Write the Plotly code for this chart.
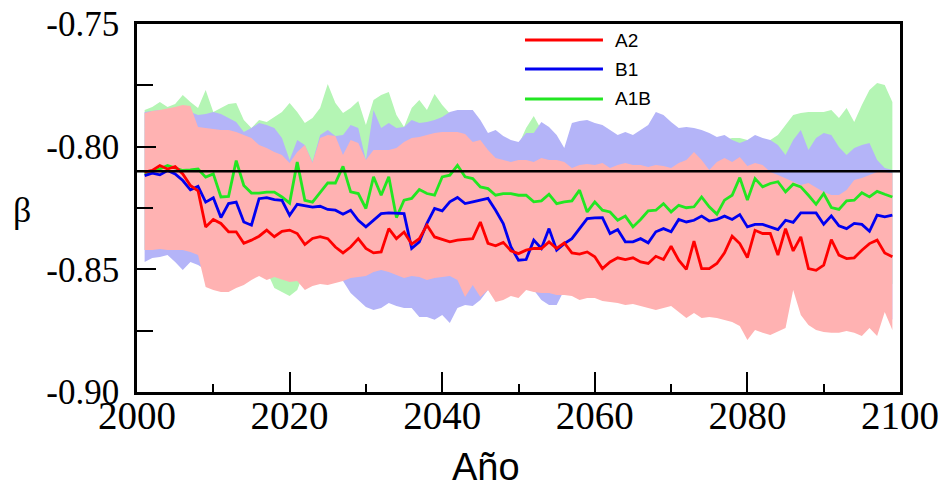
import plotly.graph_objects as go

years = list(range(2001, 2100))

a2_mean = [-0.8104, -0.8097, -0.8077, -0.8091, -0.8081, -0.8111, -0.8158, -0.8180, -0.8327, -0.8297,
           -0.8313, -0.8347, -0.8347, -0.8394, -0.8381, -0.8365, -0.8340, -0.8367, -0.8345, -0.8340,
           -0.8354, -0.8399, -0.8374, -0.8367, -0.8375, -0.8409, -0.8433, -0.8409, -0.8375, -0.8415,
           -0.8433, -0.8429, -0.8334, -0.8375, -0.8348, -0.8397, -0.8375, -0.8320, -0.8368, -0.8379,
           -0.8388, -0.8381, -0.8379, -0.8375, -0.8307, -0.8394, -0.8404, -0.8390, -0.8424, -0.8436,
           -0.8422, -0.8415, -0.8415, -0.8388, -0.8415, -0.8392, -0.8433, -0.8438, -0.8429, -0.8449,
           -0.8497, -0.8470, -0.8453, -0.8460, -0.8453, -0.8470, -0.8476, -0.8447, -0.8460, -0.8406,
           -0.8463, -0.8500, -0.8385, -0.8497, -0.8497, -0.8476, -0.8433, -0.8365, -0.8395, -0.8452,
           -0.8341, -0.8354, -0.8354, -0.8442, -0.8334, -0.8425, -0.8368, -0.8497, -0.8504, -0.8483,
           -0.8379, -0.8442, -0.8456, -0.8453, -0.8422, -0.8395, -0.8381, -0.8433, -0.8449]

b1_mean = [-0.8118, -0.8108, -0.8115, -0.8097, -0.8111, -0.8138, -0.8176, -0.8162, -0.8226, -0.8208,
           -0.8289, -0.8232, -0.8226, -0.8307, -0.8320, -0.8212, -0.8208, -0.8216, -0.8219, -0.8280,
           -0.8235, -0.8239, -0.8246, -0.8243, -0.8256, -0.8259, -0.8275, -0.8259, -0.8300, -0.8327,
           -0.8300, -0.8273, -0.8270, -0.8270, -0.8273, -0.8415, -0.8388, -0.8313, -0.8252, -0.8262,
           -0.8225, -0.8207, -0.8232, -0.8225, -0.8218, -0.8211, -0.8259, -0.8313, -0.8408, -0.8463,
           -0.8460, -0.8381, -0.8415, -0.8334, -0.8422, -0.8395, -0.8375, -0.8334, -0.8293, -0.8290,
           -0.8289, -0.8354, -0.8338, -0.8388, -0.8388, -0.8375, -0.8392, -0.8347, -0.8334, -0.8347,
           -0.8297, -0.8307, -0.8300, -0.8283, -0.8303, -0.8297, -0.8283, -0.8297, -0.8277, -0.8327,
           -0.8317, -0.8317, -0.8327, -0.8338, -0.8300, -0.8309, -0.8270, -0.8269, -0.8270, -0.8316,
           -0.8282, -0.8323, -0.8334, -0.8313, -0.8317, -0.8345, -0.8279, -0.8286, -0.8279]

a1b_mean = [-0.8111, -0.8101, -0.8091, -0.8077, -0.8086, -0.8097, -0.8095, -0.8091, -0.8124, -0.8111,
            -0.8205, -0.8203, -0.8057, -0.8158, -0.8189, -0.8189, -0.8185, -0.8185, -0.8205, -0.8230,
            -0.8063, -0.8219, -0.8226, -0.8185, -0.8148, -0.8148, -0.8080, -0.8184, -0.8191, -0.8252,
            -0.8123, -0.8198, -0.8123, -0.8289, -0.8218, -0.8211, -0.8175, -0.8191, -0.8198, -0.8123,
            -0.8116, -0.8076, -0.8123, -0.8130, -0.8164, -0.8171, -0.8198, -0.8191, -0.8191, -0.8198,
            -0.8198, -0.8225, -0.8221, -0.8194, -0.8232, -0.8225, -0.8221, -0.8177, -0.8266, -0.8225,
            -0.8259, -0.8266, -0.8300, -0.8283, -0.8327, -0.8297, -0.8262, -0.8259, -0.8232, -0.8266,
            -0.8239, -0.8249, -0.8245, -0.8205, -0.8245, -0.8275, -0.8218, -0.8198, -0.8126, -0.8218,
            -0.8130, -0.8164, -0.8150, -0.8143, -0.8184, -0.8153, -0.8164, -0.8198, -0.8235, -0.8191,
            -0.8248, -0.8256, -0.8221, -0.8218, -0.8188, -0.8205, -0.8182, -0.8194, -0.8205]

a2_upper = [-0.7863, -0.7855, -0.7851, -0.7846, -0.7838, -0.7830, -0.7834, -0.7920, -0.7924, -0.7928,
            -0.7932, -0.7932, -0.7940, -0.7952, -0.7965, -0.7993, -0.8005, -0.8022, -0.8034, -0.8067,
            -0.8022, -0.7993, -0.8067, -0.7965, -0.7952, -0.7957, -0.8034, -0.7973, -0.7985, -0.8054,
            -0.8014, -0.8014, -0.8014, -0.8005, -0.7981, -0.7965, -0.7961, -0.7952, -0.7944, -0.7940,
            -0.7940, -0.7940, -0.7948, -0.7981, -0.7973, -0.8014, -0.8046, -0.8054, -0.8062, -0.8054,
            -0.8054, -0.8062, -0.8046, -0.8054, -0.8054, -0.8062, -0.8087, -0.8075, -0.8071, -0.8075,
            -0.8067, -0.8087, -0.8075, -0.8067, -0.8075, -0.8075, -0.8083, -0.8075, -0.8079, -0.8087,
            -0.8067, -0.8054, -0.8022, -0.8054, -0.8095, -0.8062, -0.8046, -0.8062, -0.8042, -0.8079,
            -0.8067, -0.8075, -0.8103, -0.8115, -0.8128, -0.8144, -0.8156, -0.8148, -0.8168, -0.8185,
            -0.8197, -0.8197, -0.8177, -0.8136, -0.8128, -0.8115, -0.8103, -0.8103, -0.8107]

a2_lower = [-0.8421, -0.8421, -0.8417, -0.8421, -0.8421, -0.8421, -0.8429, -0.8442, -0.8572, -0.8584,
            -0.8592, -0.8592, -0.8576, -0.8564, -0.8543, -0.8527, -0.8543, -0.8531, -0.8543, -0.8552,
            -0.8548, -0.8584, -0.8568, -0.8560, -0.8564, -0.8556, -0.8548, -0.8535, -0.8531, -0.8527,
            -0.8511, -0.8503, -0.8511, -0.8523, -0.8535, -0.8527, -0.8531, -0.8543, -0.8535, -0.8531,
            -0.8527, -0.8543, -0.8613, -0.8564, -0.8613, -0.8584, -0.8633, -0.8625, -0.8609, -0.8617,
            -0.8584, -0.8592, -0.8596, -0.8596, -0.8605, -0.8605, -0.8609, -0.8625, -0.8617, -0.8617,
            -0.8629, -0.8633, -0.8637, -0.8645, -0.8641, -0.8649, -0.8658, -0.8666, -0.8658, -0.8649,
            -0.8674, -0.8698, -0.8678, -0.8698, -0.8694, -0.8698, -0.8706, -0.8715, -0.8731, -0.8788,
            -0.8747, -0.8759, -0.8768, -0.8755, -0.8739, -0.8584, -0.8686, -0.8727, -0.8747, -0.8755,
            -0.8759, -0.8759, -0.8751, -0.8759, -0.8772, -0.8739, -0.8772, -0.8674, -0.8747]

b1_upper = [-0.7859, -0.7855, -0.7851, -0.7851, -0.7846, -0.7842, -0.7859, -0.7871, -0.7867, -0.7859,
            -0.7867, -0.7883, -0.7899, -0.7940, -0.7924, -0.7904, -0.7912, -0.7924, -0.7965, -0.8054,
            -0.7973, -0.7993, -0.8062, -0.7952, -0.7932, -0.7957, -0.7952, -0.7912, -0.7924, -0.8054,
            -0.7851, -0.7924, -0.7904, -0.7924, -0.7920, -0.7891, -0.7904, -0.7899, -0.7891, -0.7879,
            -0.7859, -0.7851, -0.7851, -0.7851, -0.7891, -0.7944, -0.7932, -0.7957, -0.7973, -0.7981,
            -0.7944, -0.7944, -0.7899, -0.7920, -0.7952, -0.8005, -0.7904, -0.7895, -0.7891, -0.7904,
            -0.7912, -0.7932, -0.7952, -0.7940, -0.7952, -0.7932, -0.7912, -0.7859, -0.7871, -0.7899,
            -0.7924, -0.7920, -0.7924, -0.7932, -0.7944, -0.7961, -0.7952, -0.7973, -0.7985, -0.7973,
            -0.7952, -0.7965, -0.7973, -0.7993, -0.8034, -0.7973, -0.7932, -0.8014, -0.7965, -0.7944,
            -0.7952, -0.8001, -0.8034, -0.8005, -0.7993, -0.7985, -0.8054, -0.8087, -0.8095]

b1_lower = [-0.8470, -0.8454, -0.8450, -0.8442, -0.8470, -0.8503, -0.8470, -0.8482, -0.8503, -0.8511,
            -0.8523, -0.8523, -0.8515, -0.8511, -0.8503, -0.8503, -0.8511, -0.8511, -0.8515, -0.8523,
            -0.8523, -0.8535, -0.8543, -0.8543, -0.8548, -0.8543, -0.8548, -0.8596, -0.8625, -0.8654,
            -0.8666, -0.8658, -0.8637, -0.8649, -0.8658, -0.8658, -0.8694, -0.8694, -0.8706, -0.8686,
            -0.8719, -0.8658, -0.8645, -0.8649, -0.8625, -0.8584, -0.8592, -0.8592, -0.8584, -0.8584,
            -0.8576, -0.8584, -0.8625, -0.8645, -0.8645, -0.8584, -0.8584, -0.8592, -0.8584, -0.8592,
            -0.8596, -0.8592, -0.8605, -0.8609, -0.8605, -0.8613, -0.8617, -0.8625, -0.8617, -0.8625,
            -0.8633, -0.8645, -0.8637, -0.8645, -0.8645, -0.8649, -0.8658, -0.8666, -0.8674, -0.8686,
            -0.8686, -0.8698, -0.8706, -0.8698, -0.8686, -0.8564, -0.8645, -0.8686, -0.8698, -0.8706,
            -0.8706, -0.8715, -0.8706, -0.8715, -0.8727, -0.8698, -0.8727, -0.8645, -0.8706]

a1b_upper = [-0.7851, -0.7838, -0.7818, -0.7838, -0.7826, -0.7789, -0.7818, -0.7842, -0.7769, -0.7859,
             -0.7842, -0.7826, -0.7822, -0.7891, -0.7924, -0.7891, -0.7899, -0.7879, -0.7859, -0.7822,
             -0.7859, -0.7904, -0.7883, -0.7842, -0.7745, -0.7822, -0.7863, -0.7842, -0.7814, -0.7912,
             -0.7810, -0.7789, -0.7777, -0.7871, -0.7920, -0.7842, -0.7810, -0.7851, -0.7785, -0.7830,
             -0.7863, -0.7899, -0.7912, -0.7924, -0.7940, -0.7973, -0.7973, -0.7981, -0.7993, -0.7993,
             -0.7924, -0.7875, -0.7932, -0.7973, -0.7993, -0.8014, -0.7973, -0.7981, -0.7985, -0.7993,
             -0.7989, -0.7993, -0.7997, -0.7989, -0.7993, -0.7985, -0.7981, -0.7977, -0.7985, -0.7993,
             -0.7989, -0.7993, -0.7997, -0.7993, -0.7989, -0.7993, -0.7973, -0.7965, -0.7965, -0.7973,
             -0.7981, -0.7977, -0.7973, -0.7952, -0.7912, -0.7871, -0.7863, -0.7859, -0.7859, -0.7859,
             -0.7851, -0.7883, -0.7842, -0.7899, -0.7830, -0.7769, -0.7740, -0.7749, -0.7818]

a1b_lower = [-0.8421, -0.8421, -0.8417, -0.8421, -0.8421, -0.8421, -0.8429, -0.8442, -0.8495, -0.8503,
             -0.8503, -0.8507, -0.8503, -0.8499, -0.8495, -0.8503, -0.8507, -0.8576, -0.8592, -0.8609,
             -0.8584, -0.8503, -0.8507, -0.8503, -0.8499, -0.8503, -0.8507, -0.8503, -0.8499, -0.8495,
             -0.8490, -0.8486, -0.8490, -0.8495, -0.8499, -0.8503, -0.8499, -0.8503, -0.8507, -0.8503,
             -0.8499, -0.8507, -0.8556, -0.8552, -0.8560, -0.8556, -0.8560, -0.8564, -0.8560, -0.8556,
             -0.8556, -0.8560, -0.8564, -0.8560, -0.8556, -0.8560, -0.8564, -0.8560, -0.8564, -0.8560,
             -0.8564, -0.8560, -0.8556, -0.8560, -0.8564, -0.8560, -0.8564, -0.8560, -0.8556, -0.8560,
             -0.8564, -0.8560, -0.8564, -0.8560, -0.8556, -0.8560, -0.8564, -0.8560, -0.8564, -0.8560,
             -0.8556, -0.8560, -0.8564, -0.8560, -0.8556, -0.8552, -0.8560, -0.8564, -0.8560, -0.8556,
             -0.8560, -0.8564, -0.8560, -0.8556, -0.8560, -0.8564, -0.8560, -0.8556, -0.8560]

ref_beta = -0.81
x_ticks = [2000, 2020, 2040, 2060, 2080, 2100]
x_minor = [2010, 2030, 2050, 2070, 2090]
y_ticks = [-0.90, -0.85, -0.80, -0.75]
y_ticklabels = ["-0.90", "-0.85", "-0.80", "-0.75"]
y_minor = [-0.875, -0.825, -0.775]
series_names = ["A2", "B1", "A1B"]

SERIF = "Liberation Serif"
SANS = "Liberation Sans"

line_colors = {"A2": "#ff0000", "B1": "#0000f0", "A1B": "#22e622"}
band_colors = {"A2": "rgb(255,178,178)", "B1": "rgb(180,180,248)", "A1B": "rgb(180,245,180)"}

fig = go.Figure()

bands = [("A1B", a1b_upper, a1b_lower), ("B1", b1_upper, b1_lower), ("A2", a2_upper, a2_lower)]
for name, hi, lo in bands:
    fig.add_trace(go.Scatter(
        x=years + years[::-1], y=hi + lo[::-1], fill="toself",
        fillcolor=band_colors[name], line=dict(width=0), mode="lines",
        hoverinfo="skip", showlegend=False))

means = {"A2": a2_mean, "B1": b1_mean, "A1B": a1b_mean}
for name in ["A1B", "B1", "A2"]:
    fig.add_trace(go.Scatter(x=years, y=means[name], mode="lines",
                             line=dict(color=line_colors[name], width=2.8),
                             name=name, showlegend=False))

fig.add_shape(type="line", xref="paper", x0=0, x1=1, yref="y", y0=ref_beta, y1=ref_beta,
              line=dict(color="black", width=2.5), layer="above")

# manual legend
leg_y = [0.9565, 0.8777, 0.7962]
for name, ly in zip(series_names, leg_y):
    fig.add_shape(type="line", xref="paper", yref="paper", x0=0.5085, x1=0.6107, y0=ly, y1=ly,
                  line=dict(color=line_colors[name], width=2.8))
    fig.add_annotation(xref="paper", yref="paper", x=0.6239, y=ly, text=name, showarrow=False,
                       xanchor="left", yanchor="middle",
                       font=dict(family=SANS, size=19, color="black"))

fig.add_annotation(xref="paper", yref="paper", x=-0.1507, y=0.4946, text="β", showarrow=False,
                   xanchor="center", yanchor="middle",
                   font=dict(family=SERIF, size=36, color="black"))
fig.add_annotation(xref="paper", yref="paper", x=0.457, y=-0.204, text="Año", showarrow=False,
                   xanchor="center", yanchor="middle",
                   font=dict(family=SANS, size=38, color="black"))

fig.update_xaxes(range=[2000, 2100], tickmode="array", tickvals=x_ticks,
                 ticktext=[str(v) for v in x_ticks], automargin=False, ticklabelstandoff=-13,
                 ticks="inside", ticklen=20, tickwidth=2, tickcolor="black",
                 showline=True, linewidth=2.5, linecolor="black", mirror=True,
                 showgrid=False, zeroline=False,
                 minor=dict(tickmode="array", tickvals=x_minor, ticks="inside", ticklen=8,
                            tickwidth=2, tickcolor="black", showgrid=False),
                 tickfont=dict(family=SERIF, size=39, color="black"))
fig.update_yaxes(range=[-0.90, -0.75], tickmode="array", tickvals=y_ticks, ticktext=y_ticklabels,
                 automargin=False, ticklabelstandoff=8,
                 ticks="inside", ticklen=19, tickwidth=2, tickcolor="black",
                 showline=True, linewidth=2.5, linecolor="black", mirror=True,
                 showgrid=False, zeroline=False,
                 minor=dict(tickmode="array", tickvals=y_minor, ticks="inside", ticklen=16,
                            tickwidth=2, tickcolor="black", showgrid=False),
                 tickfont=dict(family=SERIF, size=35, color="black"))

fig.update_layout(width=940, height=490, margin=dict(l=137, r=40, t=24, b=98),
                  plot_bgcolor="white", paper_bgcolor="white", showlegend=False)

fig.write_html("out.html", config={"displayModeBar": False},
               post_script="document.body.style.margin='0px';")
